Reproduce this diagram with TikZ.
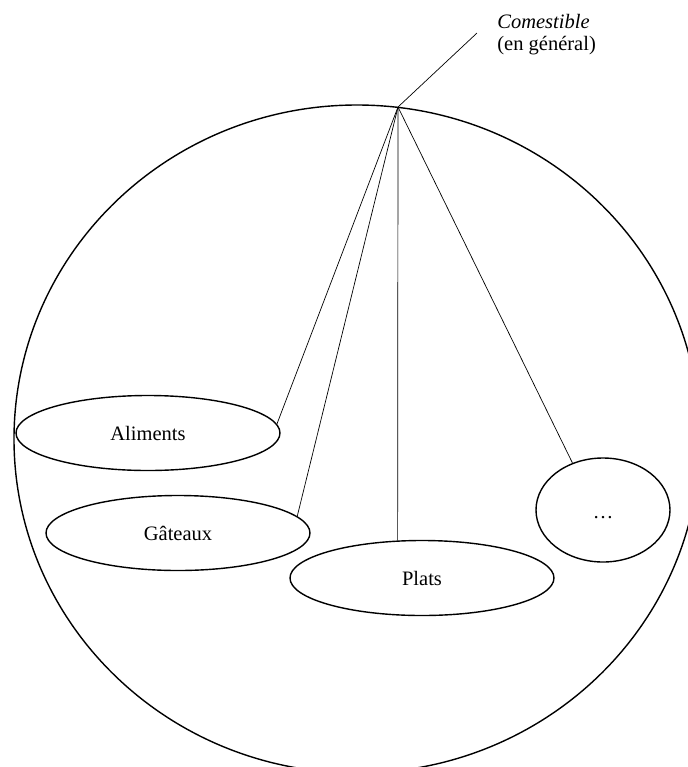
\documentclass[tikz,border=0pt]{standalone}
\usepackage{fontspec}
\setmainfont{Liberation Serif}
\usetikzlibrary{shapes.geometric}

\begin{document}
\begin{tikzpicture}[x=0.5pt, y=-0.5pt,
  font=\fontsize{10.25pt}{11pt}\selectfont,
  ovale/.style={draw, ellipse, line width=0.7pt, inner sep=0pt,
    minimum width=132pt, minimum height=37.5pt},
  trait/.style={line width=0.35pt}]
\useasboundingbox (0,0) rectangle (688,767);
\clip (0,0) rectangle (688,767);
% grand ensemble
\node[draw, ellipse, line width=0.7pt, minimum width=343pt, minimum height=334pt] (tout) at (357,439) {};
\coordinate (sommet) at (398,107);
\coordinate (fin) at (477,33);
\node[anchor=north west, align=left, inner sep=0pt] (comestible) at (497,14) {\textit{Comestible}\\(en général)};
% sous-ensembles
\node[ovale] (aliments) at (148,433) {Aliments};
\node[ovale] (gateaux) at (178,533) {Gâteaux};
\node[ovale] (plats) at (422,578) {Plats};
\node[ovale, minimum width=67pt, minimum height=52pt] (autres) at (603,510) {\raisebox{-4pt}[0pt][0pt]{…}};
\draw[trait] (sommet) -- (fin);
\draw[trait] (sommet) -- (aliments.4);
\draw[trait] (sommet) -- (gateaux.8);
\draw[trait] (sommet) -- (plats.123);
\draw[trait] (sommet) -- (autres.123);
\end{tikzpicture}
\end{document}
